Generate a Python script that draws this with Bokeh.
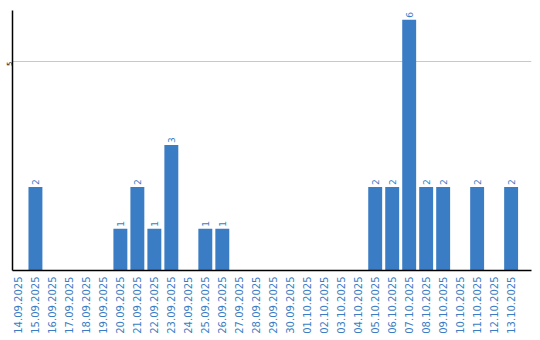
import math
from bokeh.plotting import figure
from bokeh.models import ColumnDataSource, FixedTicker, Range1d
from bokeh.embed import file_html
from bokeh.resources import INLINE
from bokeh.core.properties import value

dates = ["14.09.2025", "15.09.2025", "16.09.2025", "17.09.2025", "18.09.2025",
         "19.09.2025", "20.09.2025", "21.09.2025", "22.09.2025", "23.09.2025",
         "24.09.2025", "25.09.2025", "26.09.2025", "27.09.2025", "28.09.2025",
         "29.09.2025", "30.09.2025", "01.10.2025", "02.10.2025", "03.10.2025",
         "04.10.2025", "05.10.2025", "06.10.2025", "07.10.2025", "08.10.2025",
         "09.10.2025", "10.10.2025", "11.10.2025", "12.10.2025", "13.10.2025"]
counts = [0, 2, 0, 0, 0, 0, 1, 2, 1, 3, 0, 1, 1, 0, 0, 0, 0, 0, 0, 0,
          0, 2, 2, 6, 2, 2, 0, 2, 0, 2]
y_ticks = [5]

BLUE = "#3b7dc4"

xs = list(range(len(dates)))
src = ColumnDataSource(dict(x=xs, top=counts))
lab_x = [i for i, c in zip(xs, counts) if c > 0]
lab_y = [c for c in counts if c > 0]
lab_t = [str(c) for c in counts if c > 0]
lsrc = ColumnDataSource(dict(x=lab_x, y=lab_y, t=lab_t))

p = figure(width=540, height=340, output_backend="svg", toolbar_location=None,
           x_range=Range1d(-0.35, 30.2), y_range=Range1d(0, 6.22),
           min_border_left=10, min_border_right=9, min_border_top=10,
           min_border_bottom=70)
p.outline_line_color = None
p.background_fill_color = "white"

p.vbar(x="x", top="top", width=0.82, source=src, color=BLUE, line_color=None)
p.text(x="x", y="y", text="t", source=lsrc, angle=math.pi / 2,
       text_align="left", text_baseline="middle", y_offset=-2,
       text_font=value("DejaVu Sans"), text_font_size="9px", text_color=BLUE)

p.xgrid.grid_line_color = None
p.ygrid.grid_line_color = "#c8c8c8"
p.ygrid.ticker = FixedTicker(ticks=y_ticks)

xa = p.xaxis[0]
xa.ticker = FixedTicker(ticks=xs)
xa.major_label_overrides = {i: d for i, d in zip(xs, dates)}
xa.major_label_orientation = math.pi / 2
xa.major_label_text_font = "DejaVu Sans"
xa.major_label_text_font_size = "10px"
xa.major_label_text_color = BLUE
xa.major_label_standoff = 6
xa.major_tick_out = 0
xa.major_tick_in = 0
xa.minor_tick_out = 0
xa.minor_tick_in = 0
xa.axis_line_color = "black"
xa.axis_line_width = 1.5

ya = p.yaxis[0]
ya.ticker = FixedTicker(ticks=y_ticks)
ya.major_label_orientation = math.pi / 2
ya.major_label_text_font = "DejaVu Sans"
ya.major_label_text_font_size = "7px"
ya.major_label_text_color = "black"
ya.major_label_standoff = 3
ya.major_tick_out = 0
ya.major_tick_in = 0
ya.minor_tick_out = 0
ya.minor_tick_in = 0
ya.axis_line_color = "black"
ya.axis_line_width = 1.5

open("out.html", "w").write(file_html(p, INLINE))
